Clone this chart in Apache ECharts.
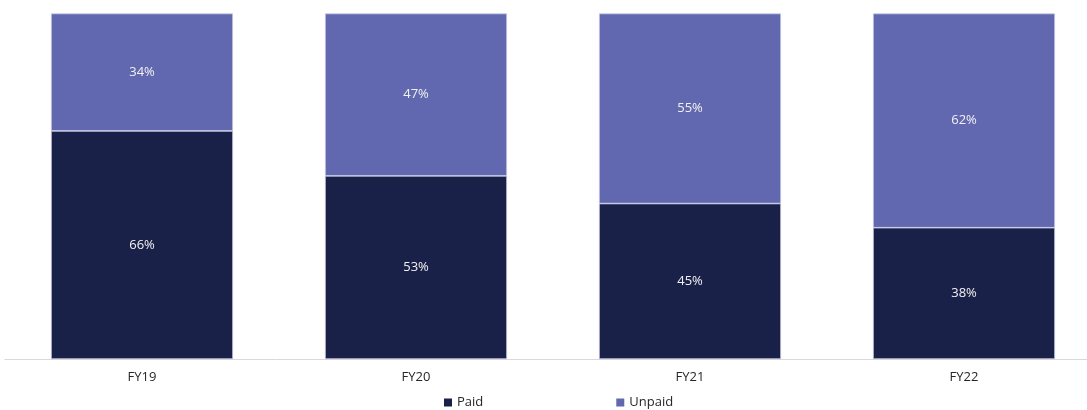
<!DOCTYPE html>
<html>
<head>
<meta charset="utf-8">
<script src="https://cdn.jsdelivr.net/npm/echarts@6/dist/echarts.min.js"></script>
<style>
html,body{margin:0;padding:0;background:#fff;}
#chart{width:1087px;height:410px;}
</style>
</head>
<body>
<div id="chart"></div>
<script>
var categories = ['FY19', 'FY20', 'FY21', 'FY22'];
var paid = [66, 53, 45, 38];
var unpaid = [34, 47, 55, 62];
var seriesNames = ['Paid', 'Unpaid'];

var chart = echarts.init(document.getElementById('chart'), null, {renderer: 'canvas'});
var fontFamily = "'Open Sans', 'Noto Sans', sans-serif";
var labelStyle = {
  show: true,
  position: 'inside',
  color: '#f2f2f2',
  fontSize: 13,
  fontFamily: fontFamily,
  formatter: function (p) { return p.value + '%'; }
};
chart.setOption({
  animation: false,
  backgroundColor: '#ffffff',
  grid: {left: 5, top: 13.5, bottom: 51, width: 1096, containLabel: false, outerBoundsMode: 'none'},
  legend: {
    data: seriesNames,
    left: 444,
    top: 396,
    padding: 0,
    itemWidth: 8,
    itemHeight: 8,
    itemGap: 133,
    icon: 'rect',
    itemStyle: {borderWidth: 0},
    textStyle: {color: '#262626', fontSize: 13, fontFamily: fontFamily}
  },
  xAxis: {
    type: 'category',
    data: categories,
    axisLine: {lineStyle: {color: '#d9d9d9', width: 1}},
    axisTick: {show: false},
    axisLabel: {color: '#262626', fontSize: 13, fontFamily: fontFamily, margin: 12}
  },
  yAxis: {
    type: 'value',
    min: 0,
    max: 100,
    show: false,
    splitLine: {show: false}
  },
  series: [
    {
      name: seriesNames[0],
      type: 'bar',
      stack: 'total',
      data: paid,
      barWidth: '66.4%',
      itemStyle: {color: '#1a2149', borderColor: '#c8cae6', borderWidth: 0.7},
      label: labelStyle
    },
    {
      name: seriesNames[1],
      type: 'bar',
      stack: 'total',
      data: unpaid,
      barWidth: '66.4%',
      itemStyle: {color: '#6268b0', borderColor: '#c8cae6', borderWidth: 0.7},
      label: labelStyle
    }
  ]
});
</script>
</body>
</html>
